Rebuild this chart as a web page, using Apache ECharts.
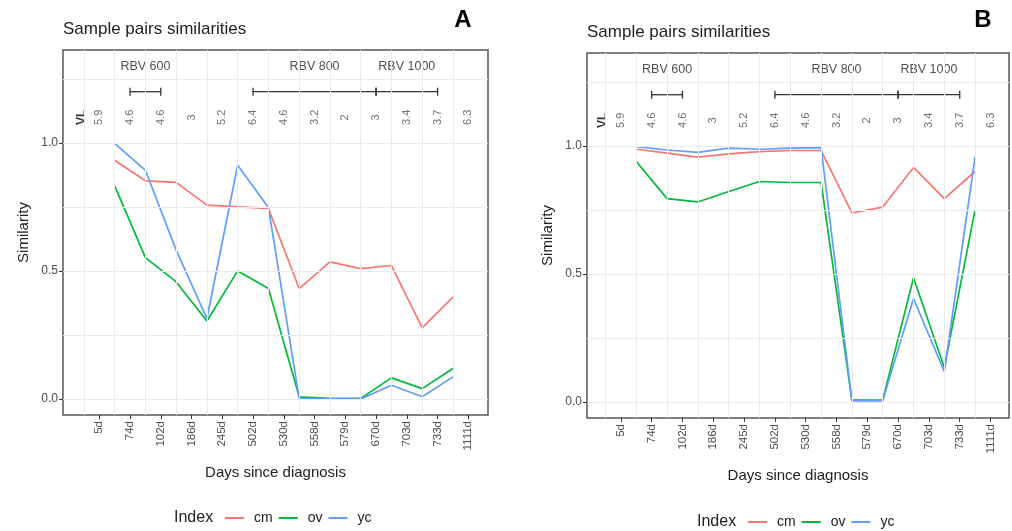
<!DOCTYPE html>
<html>
<head>
<meta charset="UTF-8">
<title>Sample pairs similarities</title>
<script src="https://cdn.jsdelivr.net/npm/echarts@6/dist/echarts.min.js"></script>
<style>
  body { margin: 0; background: #fff; }
  #chart { width: 1012px; height: 531px; }
</style>
</head>
<body>
<div id="chart"></div>
<script>
// Sample labels (x ticks) and viral load row
const days = ['5d', '74d', '102d', '186d', '245d', '502d', '530d', '558d', '579d', '670d', '703d', '733d', '1111d']
const viralLoad = ['5.9', '4.6', '4.6', '3', '5.2', '6.4', '4.6', '3.2', '2', '3', '3.4', '3.7', '6.3']

// RBV treatment periods (sample index from / to)
const rbvLabels = ['RBV 600', 'RBV 800', 'RBV 1000']
const rbvFrom = [2, 6, 10]
const rbvTo = [3, 10, 12]

// Pair similarities, panel A
const cmA = [0.932, 0.852, 0.846, 0.757, 0.750, 0.744, 0.431, 0.535, 0.509, 0.521, 0.277, 0.398]
const ovA = [0.832, 0.552, 0.457, 0.304, 0.500, 0.431, 0.008, 0.002, 0.002, 0.082, 0.040, 0.119]
const ycA = [0.998, 0.893, 0.581, 0.314, 0.913, 0.748, 0.002, 0.000, 0.000, 0.053, 0.008, 0.086]

// Pair similarities, panel B
const cmB = [0.987, 0.972, 0.956, 0.969, 0.978, 0.982, 0.982, 0.738, 0.761, 0.916, 0.794, 0.900]
const ovB = [0.939, 0.794, 0.781, 0.822, 0.861, 0.857, 0.857, 0.007, 0.007, 0.485, 0.134, 0.751]
const ycB = [0.997, 0.984, 0.975, 0.991, 0.987, 0.991, 0.993, 0.004, 0.004, 0.404, 0.118, 0.958]

const COLORS = { cm: '#F8766D', ov: '#00BA38', yc: '#619CFF' }
const FONT = "'Liberation Sans', Arial, sans-serif"
const GRID_Y = [0, 0.25, 0.5, 0.75, 1, 1.25]
const TICKS_X = days.map((d, i) => i + 1)

const grids = [
  { left: 63, top: 50, width: 425, height: 365, xMin: -0.18, xMax: 13.64 },
  { left: 587, top: 53, width: 422, height: 365, xMin: -0.10, xMax: 13.6 }
]

function pairData(vals) {
  // each pair sits between sample i and i+1
  return vals.map((v, i) => [i + 1.5, v])
}

function renderBar(params, api) {
  const a = api.coord([api.value(0), api.value(2)])
  const b = api.coord([api.value(1), api.value(2)])
  const h = 4
  const style = { stroke: '#333', lineWidth: 1.3 }
  return {
    type: 'group',
    children: [
      { type: 'line', shape: { x1: a[0], y1: a[1], x2: b[0], y2: b[1] }, style },
      { type: 'line', shape: { x1: a[0], y1: a[1] - h, x2: a[0], y2: a[1] + h }, style },
      { type: 'line', shape: { x1: b[0], y1: b[1] - h, x2: b[0], y2: b[1] + h }, style }
    ]
  }
}

function panelSeries(idx, cm, ov, yc) {
  const gridLines = GRID_Y.map(v => ({ yAxis: v }))
    .concat(days.map((d, i) => ({ xAxis: i + 0.5 })))
  const lines = [['cm', cm], ['ov', ov], ['yc', yc]].map(([name, vals]) => ({
    name,
    type: 'line',
    xAxisIndex: idx,
    yAxisIndex: idx,
    data: pairData(vals),
    symbol: 'none',
    z: 3,
    lineStyle: { color: COLORS[name], width: 1.7 },
    itemStyle: { color: COLORS[name] }
  }))
  return [
    {
      type: 'scatter',
      xAxisIndex: idx,
      yAxisIndex: idx,
      symbolSize: 0,
      z: 1,
      data: viralLoad.map((v, i) => [i + 1, 1.1, v]),
      label: {
        show: true, position: 'inside', rotate: 90,
        formatter: p => p.data[2],
        fontFamily: FONT, fontSize: 11, color: '#4d4d4d'
      },
      markLine: {
        silent: true,
        symbol: ['none', 'none'],
        label: { show: false },
        lineStyle: { type: 'solid', color: '#ebebeb', width: 1 },
        data: gridLines
      }
    },
    {
      type: 'scatter',
      xAxisIndex: idx,
      yAxisIndex: idx,
      symbolSize: 0,
      z: 2,
      data: [[0.42, 1.1, 'VL']],
      label: {
        show: true, position: 'inside', rotate: 90,
        formatter: p => p.data[2],
        fontFamily: FONT, fontSize: 12, fontWeight: 'bold', color: '#000'
      }
    },
    {
      type: 'scatter',
      xAxisIndex: idx,
      yAxisIndex: idx,
      symbolSize: 0,
      z: 2,
      data: rbvLabels.map((t, i) => [(rbvFrom[i] + rbvTo[i]) / 2, 1.3, t]),
      label: {
        show: true, position: 'inside',
        formatter: p => p.data[2],
        fontFamily: FONT, fontSize: 12.5, color: '#222'
      }
    },
    {
      type: 'custom',
      xAxisIndex: idx,
      yAxisIndex: idx,
      z: 2,
      renderItem: renderBar,
      encode: { x: [0, 1], y: 2 },
      data: rbvLabels.map((t, i) => [rbvFrom[i], rbvTo[i], 1.2])
    }
  ].concat(lines)
}

const chart = echarts.init(document.getElementById('chart'), null, { renderer: 'canvas' })

chart.setOption({
  animation: false,
  backgroundColor: '#fff',
  grid: grids.map(g => ({
    left: g.left, top: g.top, width: g.width, height: g.height,
    show: true, borderColor: '#555', borderWidth: 1.5, backgroundColor: '#fff'
  })),
  xAxis: grids.map((g, i) => ({
    type: 'value',
    gridIndex: i,
    min: g.xMin,
    max: g.xMax,
    name: 'Days since diagnosis',
    nameLocation: 'middle',
    nameGap: 50,
    nameTextStyle: { fontFamily: FONT, fontSize: 15, color: '#222' },
    axisLine: { show: false, onZero: false },
    splitLine: { show: false },
    axisTick: { show: true, customValues: TICKS_X, length: 4, lineStyle: { color: '#333' } },
    axisLabel: {
      customValues: TICKS_X,
      rotate: 90,
      margin: 6,
      formatter: v => days[Math.round(v) - 1] || '',
      fontFamily: FONT, fontSize: 11.5, color: '#4d4d4d'
    }
  })),
  yAxis: grids.map((g, i) => ({
    type: 'value',
    gridIndex: i,
    min: -0.063,
    max: 1.363,
    name: 'Similarity',
    nameLocation: 'middle',
    nameGap: 32,
    nameTextStyle: { fontFamily: FONT, fontSize: 15, color: '#222' },
    axisLine: { show: false, onZero: false },
    splitLine: { show: false },
    axisTick: { show: true, customValues: [0, 0.5, 1], length: 4, lineStyle: { color: '#333' } },
    axisLabel: {
      customValues: [0, 0.5, 1],
      margin: 5,
      formatter: v => v.toFixed(1),
      fontFamily: FONT, fontSize: 12, color: '#4d4d4d'
    }
  })),
  legend: [
    { left: 225, top: 511 },
    { left: 748, top: 515 }
  ].map(pos => ({
    left: pos.left,
    top: pos.top,
    padding: 0,
    data: ['cm', 'ov', 'yc'],
    icon: 'rect',
    itemWidth: 19,
    itemHeight: 2,
    itemGap: 6,
    selectedMode: false,
    textStyle: { fontFamily: FONT, fontSize: 14, color: '#222', padding: [0, 0, 0, 5] }
  })),
  graphic: [
    { type: 'text', x: 63, y: 29, style: { text: 'Sample pairs similarities', font: '17px ' + FONT, fill: '#222', verticalAlign: 'middle' } },
    { type: 'text', x: 587, y: 32, style: { text: 'Sample pairs similarities', font: '17px ' + FONT, fill: '#222', verticalAlign: 'middle' } },
    { type: 'text', x: 463, y: 20, style: { text: 'A', font: 'bold 24px ' + FONT, fill: '#000', align: 'center', verticalAlign: 'middle' } },
    { type: 'text', x: 983, y: 20, style: { text: 'B', font: 'bold 24px ' + FONT, fill: '#000', align: 'center', verticalAlign: 'middle' } },
    { type: 'text', x: 174, y: 518, style: { text: 'Index', font: '16px ' + FONT, fill: '#222', verticalAlign: 'middle' } },
    { type: 'text', x: 697, y: 522, style: { text: 'Index', font: '16px ' + FONT, fill: '#222', verticalAlign: 'middle' } }
  ],
  series: panelSeries(0, cmA, ovA, ycA).concat(panelSeries(1, cmB, ovB, ycB))
})

window.addEventListener('resize', function () { chart.resize() })
</script>
</body>
</html>
